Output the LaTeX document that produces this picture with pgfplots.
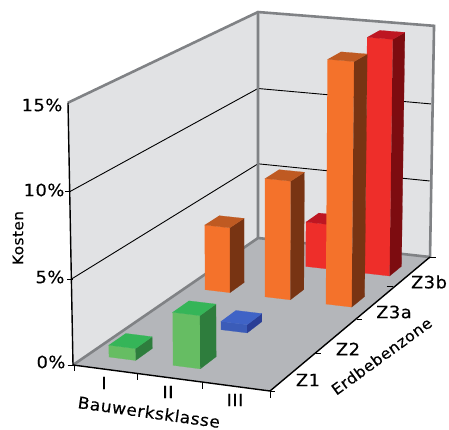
\documentclass[border=0pt]{standalone}
\usepackage{pgfplots}
\pgfplotsset{compat=1.18}
\usepackage{pgfplotstable}
\usepackage{fontspec}
\setmainfont{DejaVu Sans}[LetterSpace=3,FakeStretch=1.05,FakeBold=0.25]

\definecolor{wallfill}{HTML}{E1E2E4}
\definecolor{floorfill}{HTML}{B4B6BA}
\definecolor{frameline}{HTML}{808285}
\definecolor{orangeF}{HTML}{F4722B}
\definecolor{orangeT}{HTML}{BF5A22}
\definecolor{orangeS}{HTML}{783413}
\definecolor{redF}{HTML}{EE2E2A}
\definecolor{redT}{HTML}{BE1622}
\definecolor{redS}{HTML}{7D0C10}
\definecolor{greenF}{HTML}{66BD63}
\definecolor{greenT}{HTML}{35B558}
\definecolor{greenS}{HTML}{2E7D3D}
\definecolor{blueF}{HTML}{3B5CB8}
\definecolor{blueT}{HTML}{3F63C6}
\definecolor{blueS}{HTML}{2A3E96}

% Unit corners of the three visible faces of a bar: a = across, b = depth, h = height.
\pgfplotstableread{
a b h
0 0 0
1 0 0
1 0 1
0 0 1
}\frontface
\pgfplotstableread{
a b h
0 0 1
1 0 1
1 1 1
0 1 1
}\topface
\pgfplotstableread{
a b h
1 0 0
1 1 0
1 1 1
1 0 1
}\sideface

\pgfplotsset{
  table/bar/.style n args={3}{
    x expr={px(#1-1+0.32+0.42*\thisrow{a},#2-1+0.29+0.33*\thisrow{b},#3*\thisrow{h})},
    y expr={py(#1-1+0.32+0.42*\thisrow{a},#2-1+0.29+0.33*\thisrow{b},#3*\thisrow{h})}
  },
  table/box/.style={
    x expr={px(\thisrow{u},\thisrow{v},\thisrow{c})},
    y expr={py(\thisrow{u},\thisrow{v},\thisrow{c})},
    row sep=\\
  }
}

% One bar: class, zone, cost in percent, colour prefix.
\newcommand{\costbar}[4]{
  \addplot[fill=#4F,draw=#4F,line width=0.2pt] table[bar={#1}{#2}{#3}] {\frontface};
  \addplot[fill=#4S,draw=#4S,line width=0.2pt] table[bar={#1}{#2}{#3}] {\sideface};
  \addplot[fill=#4T,draw=#4T,line width=0.2pt] table[bar={#1}{#2}{#3}] {\topface};
}

\begin{document}
\begin{tikzpicture}
\useasboundingbox (0,0) rectangle (449pt,430pt);
\begin{axis}[
  at={(0,0)}, anchor=south west,
  width=449pt, height=430pt, scale only axis,
  xmin=0, xmax=449, ymin=0, ymax=430, y dir=reverse,
  hide axis, clip=false,
  % Perspective projection of (class position, zone position, cost) onto the page.
  declare function={
    pd(\cu,\cv,\cc)=1-0.02794*\cu/3+0.17134*\cv/4-0.02627*\cc/15;
    px(\cu,\cv,\cc)=(73+189.455*\cu/3+229.21*\cv/4-6.786*\cc/15)/pd(\cu,\cv,\cc);
    py(\cu,\cv,\cc)=(365+15.075*\cu/3-86.22*\cv/4-265*\cc/15)/pd(\cu,\cv,\cc);
  },
]
% Floor and the two back walls
\addplot[fill=floorfill,draw=none] table[box] {u v c\\0 0 0\\3 0 0\\3 4 0\\0 4 0\\};
\addplot[fill=wallfill,draw=none] table[box] {u v c\\0 0 0\\0 4 0\\0 4 15\\0 0 15\\};
\addplot[fill=wallfill,draw=none] table[box] {u v c\\0 4 0\\3 4 0\\3 4 15\\0 4 15\\};

% Grid lines at 5 % and 10 %
\addplot[black,line width=0.9pt] table[box] {u v c\\0 0 5\\0 4 5\\2.97 4 5\\};
\addplot[black,line width=0.9pt] table[box] {u v c\\0 0 10\\0 4 10\\2.97 4 10\\};

% Wall frame
\addplot[frameline,line width=2.6pt] table[box] {u v c\\0 0 15\\0 4 15\\3 4 15\\3 4 0\\};
\addplot[frameline,line width=2.6pt] table[box] {u v c\\0 4 15\\0 4 0\\};
\addplot[frameline,line width=2.6pt] table[box] {u v c\\0 0 0\\0 4 0\\3 4 0\\};

% Axis lines along the floor and up the left edge
\addplot[black,line width=1.4pt] table[box] {u v c\\0 0 15\\0 0 0\\3 0 0\\3 4 0\\};

% Bars, back row first so that nearer bars overlap
\costbar{2}{4}{2.9}{red}
\costbar{3}{4}{15}{red}
\costbar{1}{3}{4.1}{orange}
\costbar{2}{3}{7.4}{orange}
\costbar{3}{3}{15}{orange}
\costbar{2}{2}{0.5}{blue}
\costbar{1}{1}{0.7}{green}
\costbar{2}{1}{3.1}{green}

% Tick marks
\addplot[black,line width=0.5pt] coordinates {(67.7,365) (73,365)};
\addplot[black,line width=0.5pt] coordinates {(67,279) (72.7,279)};
\addplot[black,line width=0.5pt] coordinates {(65,191.5) (71,191.5)};
\addplot[black,line width=0.5pt] coordinates {(74,365) (74,371)};
\addplot[black,line width=0.5pt] coordinates {(137.7,374) (137.7,380)};
\addplot[black,line width=0.5pt] coordinates {(202.7,383) (202.7,389)};
\addplot[black,line width=0.5pt] coordinates {(270,391) (270,398)};
\addplot[black,line width=0.5pt] coordinates {(270,391) (275,391)};
\addplot[black,line width=0.5pt] coordinates {(315.7,353.3) (321,353.3)};
\addplot[black,line width=0.5pt] coordinates {(356.7,319) (362.3,319)};
\addplot[black,line width=0.5pt] coordinates {(386.7,286) (392.7,286)};
\addplot[black,line width=0.5pt] coordinates {(430,257) (436,257)};

% Labels
\node[font=\fontsize{17}{17}\selectfont] at (axis cs:42,105) {15\%};
\node[font=\fontsize{17}{17}\selectfont] at (axis cs:44,190) {10\%};
\node[font=\fontsize{17}{17}\selectfont] at (axis cs:50,277) {5\%};
\node[font=\fontsize{17}{17}\selectfont] at (axis cs:51,362) {0\%};
\node[font=\fontsize{14.6}{15}\selectfont,rotate=90] at (axis cs:18,238) {Kosten};
\node[font=\fontsize{17}{17}\selectfont] at (axis cs:104,383) {I};
\node[font=\fontsize{17}{17}\selectfont] at (axis cs:168,392) {II};
\node[font=\fontsize{17}{17}\selectfont] at (axis cs:235,400) {III};
\node[font=\fontsize{16.3}{17}\selectfont,rotate=-8] at (axis cs:149,412) {Bauwerksklasse};
\node[font=\fontsize{17}{17}\selectfont] at (axis cs:308,380) {Z1};
\node[font=\fontsize{17}{17}\selectfont] at (axis cs:348,349) {Z2};
\node[font=\fontsize{17}{17}\selectfont] at (axis cs:394,312) {Z3a};
\node[font=\fontsize{17}{17}\selectfont] at (axis cs:429,282) {Z3b};
\node[font=\fontsize{15.2}{16}\selectfont,rotate=36] at (axis cs:381.5,356) {Erdbebenzone};
\end{axis}
\end{tikzpicture}
\end{document}
